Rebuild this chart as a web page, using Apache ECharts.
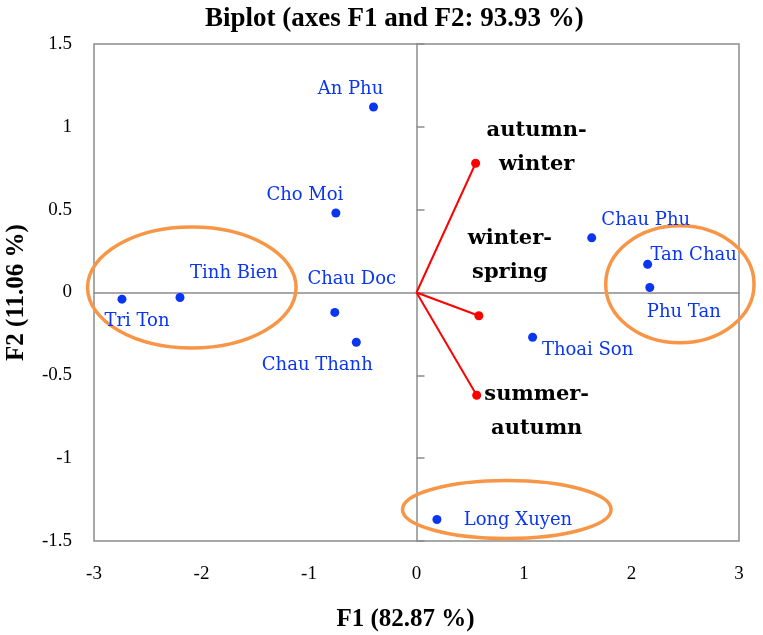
<!DOCTYPE html>
<html>
<head>
<meta charset="utf-8">
<script src="https://cdn.jsdelivr.net/npm/echarts@6/dist/echarts.min.js"></script>
<style>html,body{margin:0;padding:0;background:#fff}#c{width:763px;height:635px}</style>
</head>
<body>
<div id="c"></div>
<script>
// observations (F1, F2)
const siteNames = ['An Phu','Cho Moi','Tinh Bien','Tri Ton','Chau Doc','Chau Thanh','Chau Phu','Tan Chau','Phu Tan','Thoai Son','Long Xuyen'];
const siteF1 = [-0.40, -0.75, -2.20, -2.74, -0.76, -0.56, 1.63, 2.15, 2.17, 1.08, 0.19];
const siteF2 = [1.12, 0.48, -0.03, -0.04, -0.12, -0.30, 0.33, 0.17, 0.03, -0.27, -1.37];
// variables (vectors)
const varNames = ['autumn-\nwinter', 'winter-\nspring', 'summer-\nautumn'];
const varF1 = [0.55, 0.58, 0.56];
const varF2 = [0.78, -0.14, -0.62];
// axis ticks
const xTicks = [-3, -2, -1, 0, 1, 2, 3];
const yTicks = [-1.5, -1, -0.5, 0, 0.5, 1, 1.5];
// highlight ellipses (data units): centre x, centre y, radius x, radius y
const ellCX = [-2.09, 2.45, 0.84];
const ellCY = [0.03, 0.05, -1.31];
const ellRX = [0.97, 0.69, 0.97];
const ellRY = [0.365, 0.353, 0.175];

// label placement (pixel offsets from point) — styling only
const siteLabelOffset = {
  'An Phu': [-23, -18], 'Cho Moi': [-31, -18], 'Tinh Bien': [54, -24], 'Tri Ton': [15, 22],
  'Chau Doc': [17, -33], 'Chau Thanh': [-39, 23], 'Chau Phu': [54, -18], 'Tan Chau': [46, -9],
  'Phu Tan': [34, 25], 'Thoai Son': [55, 13], 'Long Xuyen': [81, 1]
};
const varLabelOffset = [[61, -16], [31, -60], [60, 16]];

const BLUE = '#0a36f0', RED = '#ff0000', GRAY = '#8c8c8c', ORANGE = '#f79646';
const chart = echarts.init(document.getElementById('c'));

const siteData = siteNames.map((n, i) => ({
  name: n, value: [siteF1[i], siteF2[i]],
  label: { offset: siteLabelOffset[n] }
}));
const varData = varNames.map((n, i) => ({
  name: n, value: [varF1[i], varF2[i]],
  label: { offset: varLabelOffset[i] }
}));
const vecSeries = varNames.map((n, i) => ({
  type: 'line', data: [[0, 0], [varF1[i], varF2[i]]], symbol: 'none',
  lineStyle: { color: RED, width: 2 }, silent: true, z: 3, animation: false
}));

chart.setOption({
  animation: false,
  title: {
    text: 'Biplot (axes F1 and F2: 93.93 %)', left: 200, top: 1,
    textStyle: { fontFamily: 'Liberation Serif', fontWeight: 'bold', fontSize: 27, color: '#000' }
  },
  grid: { left: 94, right: 24, top: 44, bottom: 94, outerBoundsMode: 'none', containLabel: false,
          show: true, borderColor: GRAY, borderWidth: 1.5, backgroundColor: 'transparent' },
  xAxis: [{
    type: 'value', min: xTicks[0], max: xTicks[xTicks.length - 1], interval: 1,
    axisLine: { show: false, onZero: false }, axisTick: { show: false }, splitLine: { show: false },
    axisLabel: { margin: 24, fontFamily: 'Liberation Serif', fontSize: 19, color: '#000' },
    name: 'F1 (82.87 %)', nameLocation: 'middle', nameGap: 66,
    nameTextStyle: { fontFamily: 'Liberation Serif', fontWeight: 'bold', fontSize: 25, color: '#000', padding: [0, 22, 0, 0] }
  }, {
    type: 'value', min: xTicks[0], max: xTicks[xTicks.length - 1], interval: 1,
    axisLine: { show: true, onZero: true, lineStyle: { color: GRAY, width: 1.5 } },
    axisTick: { show: false }, axisLabel: { show: false }, splitLine: { show: false }
  }],
  yAxis: [{
    type: 'value', min: yTicks[0], max: yTicks[yTicks.length - 1], interval: 0.5,
    axisLine: { show: false, onZero: false }, axisTick: { show: false }, splitLine: { show: false },
    axisLabel: { margin: 22, fontFamily: 'Liberation Serif', fontSize: 19, color: '#000' },
    name: 'F2 (11.06 %)', nameLocation: 'middle', nameGap: 65, nameRotate: 90,
    nameTextStyle: { fontFamily: 'Liberation Serif', fontWeight: 'bold', fontSize: 25, color: '#000' }
  }, {
    type: 'value', min: yTicks[0], max: yTicks[yTicks.length - 1], interval: 0.5,
    axisLine: { show: true, onZero: true, lineStyle: { color: GRAY, width: 1.5 } },
    axisTick: { show: true, inside: false, length: 8, lineStyle: { color: GRAY, width: 1.5 } },
    axisLabel: { show: false }, splitLine: { show: false }
  }],
  series: [
    ...vecSeries,
    {
      type: 'scatter', data: varData, symbolSize: 9, itemStyle: { color: RED, opacity: 1 }, z: 4,
      label: {
        show: true, position: 'inside', formatter: '{b}', align: 'center', verticalAlign: 'middle',
        fontFamily: 'DejaVu Serif', fontWeight: 'bold', fontSize: 21, lineHeight: 34, color: '#000'
      }
    },
    {
      type: 'scatter', data: siteData, symbolSize: 9, itemStyle: { color: BLUE, opacity: 1 }, z: 4,
      label: {
        show: true, position: 'inside', formatter: '{b}', align: 'center', verticalAlign: 'middle',
        fontFamily: 'DejaVu Serif', fontSize: 18, color: BLUE
      }
    }
  ]
});

function drawEllipses() {
  const els = ellCX.map((cx, i) => {
    const c = chart.convertToPixel({ gridIndex: 0 }, [cx, ellCY[i]]);
    const e = chart.convertToPixel({ gridIndex: 0 }, [cx + ellRX[i], ellCY[i] + ellRY[i]]);
    return {
      type: 'ellipse', silent: true, z: 1,
      shape: { cx: c[0], cy: c[1], rx: Math.abs(e[0] - c[0]), ry: Math.abs(e[1] - c[1]) },
      style: { fill: 'none', stroke: ORANGE, lineWidth: 3.5 }
    };
  });
  chart.setOption({ graphic: els });
}
drawEllipses();
</script>
</body>
</html>
